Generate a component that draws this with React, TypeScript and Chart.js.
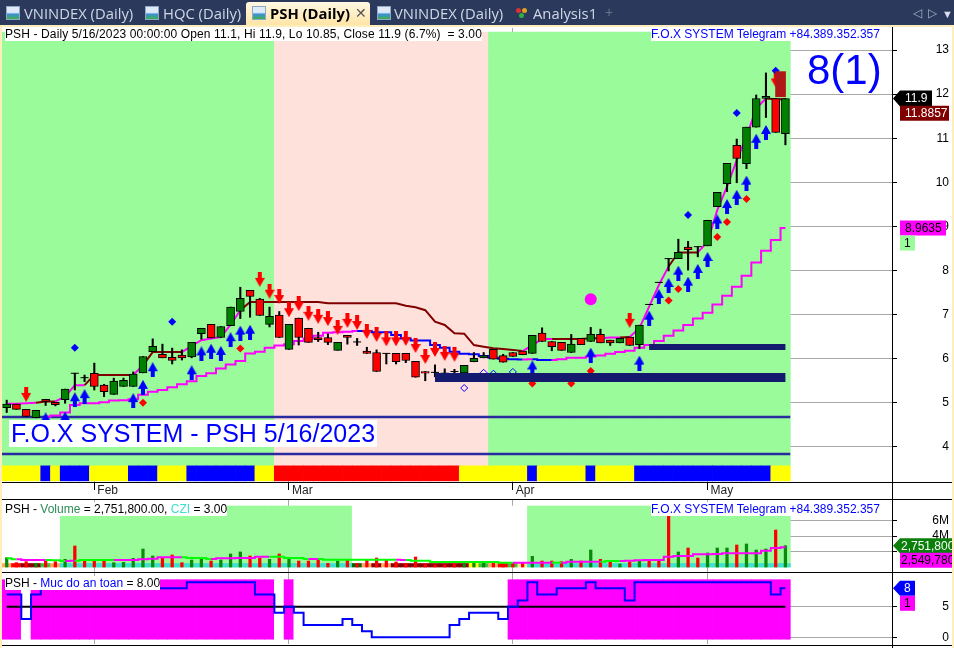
import React, { useEffect, useRef } from "react";
import { Chart, registerables } from "chart.js";

Chart.register(...registerables);

const opens = [4.89,4.97,4.85,4.66,5.08,5.01,5.07,5.67,5.57,5.67,5.40,5.19,5.37,5.37,5.68,6.16,6.10,6.03,6.08,6.04,6.57,6.78,6.48,6.75,7.07,7.55,7.35,6.78,6.99,6.21,6.92,6.69,6.48,6.48,6.19,6.53,6.38,6.17,6.14,6.12,6.12,6.12,5.94,5.71,5.69,5.68,5.71,5.68,5.93,6.02,6.21,6.07,6.14,6.17,6.12,6.58,6.39,6.37,6.14,6.46,6.39,6.55,6.42,6.36,6.49,6.32,7.23,7.73,8.27,8.27,8.53,8.54,8.56,9.45,9.97,10.84,10.42,11.25,11.90,11.90,11.10];
const highs = [5.06,4.97,4.85,4.83,5.08,5.01,5.31,5.67,5.63,5.90,5.42,5.56,5.56,5.70,6.05,6.45,6.33,6.24,6.20,6.37,6.69,6.78,6.73,7.17,7.62,7.55,7.37,7.17,7.07,6.78,6.92,6.69,6.60,6.56,6.37,6.53,6.46,6.26,6.20,6.12,6.12,6.12,5.94,5.71,5.86,5.77,5.76,5.85,6.14,6.14,6.21,6.10,6.14,6.17,6.53,6.70,6.39,6.37,6.55,6.46,6.71,6.67,6.42,6.46,6.49,6.76,7.23,7.73,8.27,8.71,8.66,8.54,9.14,9.77,10.43,10.98,11.25,11.98,12.48,11.90,11.90];
const lows = [4.78,4.85,4.69,4.66,4.94,4.93,4.99,5.29,5.48,5.29,5.14,5.19,5.37,5.37,5.68,6.16,6.02,5.88,5.97,6.02,6.44,6.47,6.48,6.75,6.91,6.94,6.98,6.72,6.48,6.21,6.31,6.37,6.39,6.32,6.19,6.33,6.30,6.12,5.71,5.88,5.88,5.91,5.58,5.50,5.59,5.59,5.65,5.68,5.93,6.02,5.99,5.92,6.05,6.09,6.12,6.39,6.18,6.19,6.14,6.32,6.39,6.36,6.30,6.36,6.30,6.23,7.23,7.73,7.99,8.27,8.01,8.31,8.56,9.45,9.79,9.99,10.31,11.25,11.47,11.13,10.85];
const closes = [4.97,4.85,4.69,4.83,5.03,4.96,5.31,5.67,5.57,5.37,5.25,5.49,5.51,5.65,6.05,6.28,6.02,5.96,6.02,6.37,6.69,6.47,6.73,7.17,7.37,7.41,6.98,6.96,6.48,6.78,6.48,6.37,6.43,6.37,6.37,6.48,6.38,6.12,5.71,6.12,5.93,5.96,5.58,5.67,5.69,5.64,5.71,5.85,6.01,6.07,5.99,5.92,6.05,6.09,6.53,6.39,6.27,6.19,6.33,6.32,6.55,6.36,6.36,6.46,6.30,6.76,7.23,7.73,8.27,8.41,8.47,8.54,9.14,9.77,10.43,10.54,11.25,11.90,11.95,11.13,11.90];

const upperLine = [4.98,4.98,4.99,5.0,5.03,5.03,5.14,5.40,5.40,5.63,5.63,5.63,5.63,5.63,5.85,6.15,6.15,6.15,6.15,6.29,6.42,6.46,6.49,6.77,7.1,7.285,7.285,7.285,7.285,7.285,7.285,7.285,7.285,7.255,7.255,7.255,7.255,7.255,7.255,7.255,7.255,7.2,7.165,7.10,6.84,6.764,6.575,6.567,6.31,6.272,6.235,6.22,6.2,6.174,6.31,6.446,6.446,6.446,6.446,6.446,6.462,6.462,6.478,6.478,6.49,6.69,7.18,7.67,8.09,8.41,8.41,8.41,8.65,9.37,9.9,10.5,11.03,11.68,11.9,11.8857,11.8857];
const upperIsSupport = [1,1,1,1,0,0,1,1,1,0,0,0,0,0,1,0,0,0,0,1,1,1,1,1,1,0,0,0,0,0,0,0,0,0,0,0,0,0,0,0,0,0,0,0,0,0,0,0,0,0,0,0,0,0,1,1,1,0,0,0,0,0,1,1,0,1,1,1,1,0,0,0,1,1,1,1,1,1,1,0,0];
const lowerLine = [null,null,null,null,4.686,4.71,4.78,4.95,4.99,4.99,5.01,5.05,5.06,5.08,5.18,5.25,5.29,5.35,5.42,5.49,5.61,5.67,5.78,5.87,5.95,6.12,6.16,6.25,6.30,6.33,6.40,6.46,6.52,6.59,6.60,6.61,6.63,6.63,6.60,6.60,6.54,6.46,6.41,6.41,6.31,6.25,6.16,6.11,6.10,6.06,6.02,6.0,5.985,5.98,5.985,5.97,5.97,5.985,6.02,6.02,6.05,6.07,6.115,6.15,6.18,6.25,6.31,6.40,6.52,6.64,6.765,6.91,7.04,7.23,7.43,7.63,7.88,8.18,8.45,8.69,8.9635];
const lowerIsSupport = [1,1,1,1,1,1,1,1,1,1,1,1,1,1,1,1,1,1,1,1,1,1,1,1,1,1,1,1,1,1,1,1,1,1,1,1,1,0,0,0,0,0,0,0,0,0,0,0,0,0,0,0,0,0,1,0,0,1,1,1,1,1,1,1,1,1,1,1,1,1,1,1,1,1,1,1,1,1,1,1,1];

const blueArrowIdx = [4,6,7,8,13,14,15,19,20,21,22,23,24,25,54,60,65,66,67,68,69,70,71,72,73,74,75,76,77,78];
const blueArrowVal = [4.61,4.63,5.07,5.14,5.05,5.35,5.75,5.68,6.11,6.17,6.12,6.43,6.58,6.60,5.79,6.08,5.90,6.92,7.41,7.66,7.94,7.69,7.98,8.25,9.10,9.45,9.66,9.98,10.93,11.13];
const redArrowIdx = [2,26,27,28,29,30,31,32,33,34,35,36,37,38,39,40,41,42,43,44,45,46,64,79];
const redArrowVal = [5.19,7.80,7.53,7.41,7.11,7.25,7.03,6.96,6.91,6.71,6.87,6.82,6.62,6.55,6.45,6.45,6.46,6.30,6.05,6.21,6.12,6.10,6.87,12.32];
const blueDotIdx = [7,17,70,75,79];
const blueDotVal = [6.25,6.84,9.26,11.57,12.53];
const redDotIdx = [14,24,54,58,60,68,69,73,74,76];
const redDotVal = [5.0,6.23,5.44,5.44,5.72,7.32,7.58,8.76,9.10,9.62];
const hollowIdx = [47,49,50,52];
const hollowVal = [5.335,5.68,5.66,5.70];
const bigDotIdx = [60];
const bigDotVal = [7.35];

const zoneStates = Array.from("GGGGGGGGGGGGGGGGGGGGGGGGGGGGPPPPPPPPPPPPPPPPPPPPPPGGGGGGGGGGGGGGGGGGGGGGGGGGGGGGG");
const stripStates = Array.from("YYYYBYBBBYYYYBBBYYYBBBBBBBYYRRRRRRRRRRRRRRRRRRRYYYYYYYBYYYYYBYYYYBBBBBBBBBBBBBBYY");
const bandLowStart = [44, 80];
const bandLowValue = 5.574;
const bandHighStart = [66, 80];
const bandHighValue = 6.265;
const frameLines = [4.678, 3.839];
const dropBox = [12.51, 11.94];

const monthIdx = [9, 29, 52, 72];
const monthLabels = ["Feb", "Mar", "Apr", "May"];
const priceTicks = [4,5,6,7,8,9,10,11,12,13];

const volumes = [1.20,.56,.69,.47,.77,.69,.99,2.71,.99,.99,.90,.56,.60,1.12,2.32,1.42,1.16,1.55,.56,.90,1.25,.77,.90,1.68,1.94,1.42,1.16,.99,1.68,1.25,.77,.77,.90,.47,.77,.90,.47,.90,1.16,.90,.65,.47,1.29,.43,.26,.30,.43,.39,.47,.52,.47,.43,.47,.47,1.38,.77,.77,.69,.99,.77,2.19,.99,.77,.39,.65,.85,.90,.90,6.58,1.94,2.45,1.16,1.81,2.45,2.45,2.84,2.97,2.19,2.32,4.77,2.75];
const volumeAvg = [1.12,.99,.90,.90,.90,.86,.77,.82,.90,.90,.90,.90,.90,.90,.99,1.08,1.25,1.25,1.25,1.16,1.16,1.03,1.12,1.12,1.16,1.16,1.33,1.33,1.33,1.16,1.16,1.03,1.03,.95,.95,.95,.95,.95,.95,.95,.95,.90,.82,.82,.65,.65,.65,.65,.65,.65,.65,.56,.56,.56,.56,.56,.56,.56,.69,.69,.69,.69,.77,.77,.82,.86,.90,.90,1.33,1.42,1.42,1.63,1.63,1.68,1.76,1.76,1.76,1.76,2.11,2.45,2.55];
const volumeAvgIsLime = [1,1,0,0,0,1,1,0,1,1,1,1,0,0,0,0,0,0,0,1,1,1,0,0,0,0,0,0,1,1,1,1,0,1,1,1,1,1,1,1,1,0,1,1,1,1,1,1,1,1,1,1,1,0,0,0,0,1,0,0,0,0,1,1,0,0,0,0,0,0,0,0,0,0,0,0,0,0,0,0,0];
const volumeZoneOn = [0,0,0,0,0,0,1,1,1,1,1,1,1,1,1,1,1,1,1,1,1,1,1,1,1,1,1,1,1,1,1,1,1,1,1,1,0,0,0,0,0,0,0,0,0,0,0,0,0,0,0,0,0,0,1,1,1,1,1,1,1,1,1,1,1,1,1,1,1,1,1,1,1,1,1,1,1,1,1,1,1];
const cziStates = Array.from("ORMMLOCCCCCCCCCCCCCCCCCCCCCCCCCCCCCCDOMOMMMMMMMMYLORLPCCCCCCCCCCCCCCCCCCCCCCCCCCC");
const volumeTicks = [2, 4, 6];

const safetyLevel = [7,7,3,7,8,8,8,8,8,8,8,8,8,8,8,8,8,8,8,9,9,9,9,9,9,9,7,7,4,5,4,2,2,2,2,3,2,1,0,0,0,0,0,0,0,0,2,3,4,4,4,3,5,6,9,7,7,8,8,8,9,8,8,8,6,9,9,9,9,9,9,9,9,9,9,9,9,9,9,7,8];
const safetyMid = 5;
const safetyTicks = [0, 5];

const indexes = opens.map((_, i) => i);
const X_MIN = -0.483;
const X_MAX = 90.95;
const GREEN = "#008000";
const RED = "#ff0000";
const ZONE_G = "#99fb99";
const ZONE_P = "#ffe1dc";
const MAG = "#ff00ff";
const MAROON = "#800000";
const pts = (xs: number[], ys: any[]) => xs.map((x, k) => ({ x, y: ys[k] }));

function arrowCanvas(color: string, up: boolean) {
  const c = document.createElement("canvas");
  c.width = 10;
  c.height = 15;
  const g = c.getContext("2d")!;
  g.fillStyle = color;
  g.beginPath();
  const p: number[][] = [[5,0],[10,9],[7,9],[7,15],[3,15],[3,9],[0,9]];
  p.forEach(([x, y], k) => {
    const yy = up ? y : 15 - y;
    if (k === 0) g.moveTo(x, yy); else g.lineTo(x, yy);
  });
  g.closePath();
  g.fill();
  return c;
}

function tagsPlugin(tags: any[]) {
  return {
    id: "tags",
    afterDraw(chart: any) {
      const g = chart.ctx;
      const sc = chart.scales.y;
      g.save();
      g.font = "12px 'Liberation Sans'";
      g.textBaseline = "middle";
      tags.forEach((t) => {
        const y = sc.getPixelForValue(t.value) + (t.dy || 0);
        const h = t.h || 15;
        g.fillStyle = t.bg;
        g.beginPath();
        if (t.arrow) {
          g.moveTo(893, y);
          g.lineTo(900, y - h / 2);
          g.lineTo(t.x2, y - h / 2);
          g.lineTo(t.x2, y + h / 2);
          g.lineTo(900, y + h / 2);
        } else {
          g.rect(t.x1, y - h / 2, t.x2 - t.x1, h);
        }
        g.closePath();
        g.fill();
        g.fillStyle = t.fg;
        g.textAlign = "left";
        g.fillText(t.text, t.tx, y + 0.5);
      });
      g.restore();
    },
  };
}

const noPadding = (s: any) => {
  s.paddingTop = 0;
  s.paddingBottom = 0;
  s.paddingLeft = 0;
  s.paddingRight = 0;
};

function xAxis(main: boolean) {
  return {
    type: "linear",
    min: X_MIN,
    max: X_MAX,
    offset: false,
    border: { display: false },
    afterBuildTicks: (s: any) => {
      s.ticks = monthIdx.map((value) => ({ value }));
    },
    afterFit: (s: any) => {
      s.height = main ? 17 : 1;
      noPadding(s);
    },
    grid: {
      offset: false,
      color: "#a8a8a8",
      lineWidth: 1,
      borderDash: [1, 2],
      drawTicks: main,
      tickLength: 8,
      tickColor: "#000",
      tickBorderDash: [],
    },
    ticks: {
      display: main,
      autoSkip: false,
      maxRotation: 0,
      align: "start",
      labelOffset: 3,
      padding: -7,
      color: "#222",
      font: { family: "'Liberation Sans'", size: 12 },
      callback: (v: number) => monthLabels[monthIdx.indexOf(v)] || "",
    },
  };
}

function yAxis(min: number, max: number, tickValues: number[], fmt: (v: number) => string) {
  return {
    position: "right",
    min,
    max,
    border: { display: false },
    afterBuildTicks: (s: any) => {
      s.ticks = tickValues.map((value) => ({ value }));
    },
    afterFit: (s: any) => {
      s.width = 57;
      noPadding(s);
    },
    grid: {
      color: "#a8a8a8",
      lineWidth: 1,
      borderDash: [1, 2],
      tickColor: "#000",
      tickLength: 5,
      tickBorderDash: [],
    },
    ticks: {
      autoSkip: false,
      crossAlign: "far",
      color: "#000",
      font: { family: "'Liberation Sans'", size: 12 },
      callback: (v: number) => fmt(v),
    },
  };
}

const baseOptions = (scales: any, padTop: number) => ({
  animation: false,
  responsive: false,
  devicePixelRatio: 1,
  events: [],
  layout: { autoPadding: false, padding: { left: 2, right: 5, top: padTop, bottom: 0 } },
  plugins: { legend: { display: false }, tooltip: { enabled: false }, title: { display: false } },
  scales,
});

const bar = (data: any[], color: any, thick: number, order: number, extra: any = {}) => ({
  type: "bar",
  data,
  backgroundColor: color,
  barThickness: thick,
  grouped: false,
  order,
  borderWidth: 0,
  ...extra,
});

const scatter = (data: any[], order: number, extra: any) => ({
  type: "line",
  data,
  showLine: false,
  order,
  ...extra,
});

function hLine(xs: number[], y: number, color: string, width: number, order: number) {
  return {
    type: "line",
    data: xs.map((x) => ({ x, y })),
    borderColor: color,
    borderWidth: width,
    pointRadius: 0,
    order,
    borderCapStyle: "butt",
  };
}

function buildMain(canvas: HTMLCanvasElement) {
  const upArrow = arrowCanvas("#0000ff", true);
  const downArrow = arrowCanvas("#ff0000", false);
  const dojis = indexes.filter((i) => opens[i] === closes[i]);
  const bodies = indexes.filter((i) => opens[i] !== closes[i]);
  return new Chart(canvas, {
    type: "bar",
    data: {
      datasets: [
        bar(indexes.map((i) => ({ x: i, y: [3.57, 13.408] })), zoneStates.map((s) => (s === "G" ? ZONE_G : ZONE_P)), 9.8, 100),
        bar(indexes.map((i) => ({ x: i, y: [3.23, 3.57] })), stripStates.map((s) => (s === "Y" ? "#ffff00" : s === "B" ? "#0000ff" : "#ff0000")), 9.8, 99),
        hLine([-0.5, 80.5], frameLines[0], "#2a2aa0", 2.5, 90),
        hLine([-0.5, 80.5], frameLines[1], "#2a2aa0", 2.5, 90),
        {
          type: "line",
          data: pts(indexes, lowerLine),
          stepped: "middle",
          borderWidth: 2,
          borderColor: MAG,
          pointRadius: 0,
          order: 60,
          segment: { borderColor: (c: any) => (lowerIsSupport[c.p1DataIndex] ? MAG : "#0000ff") },
        },
        {
          type: "line",
          data: pts(indexes, upperLine),
          borderWidth: 2,
          borderColor: MAG,
          pointRadius: 0,
          order: 59,
          segment: { borderColor: (c: any) => (upperIsSupport[c.p1DataIndex] ? MAG : MAROON) },
        },
        bar(indexes.map((i) => ({ x: i, y: [lows[i], highs[i]] })), "#000", 1.4, 50),
        bar(
          bodies.map((i) => ({ x: i, y: [opens[i], closes[i]] })),
          bodies.map((i) => (closes[i] > opens[i] ? GREEN : RED)),
          8,
          49,
          { borderColor: "#000", borderWidth: 1, borderSkipped: false }
        ),
        scatter(dojis.map((i) => ({ x: i, y: closes[i] })), 48, { pointStyle: "line", pointRadius: 4, pointBorderColor: "#000", pointBorderWidth: 1, pointRotation: 0 }),
        scatter(pts(blueArrowIdx, blueArrowVal), 40, { pointStyle: upArrow, pointRadius: 6 }),
        scatter(pts(redArrowIdx, redArrowVal), 40, { pointStyle: downArrow, pointRadius: 6 }),
        scatter(pts(blueDotIdx, blueDotVal), 39, { pointStyle: "rectRot", pointRadius: 4, pointBackgroundColor: "#0000ff", pointBorderColor: "#0000ff", pointBorderWidth: 0 }),
        scatter(pts(redDotIdx, redDotVal), 39, { pointStyle: "rectRot", pointRadius: 4, pointBackgroundColor: "#ff0000", pointBorderColor: "#ff0000", pointBorderWidth: 0 }),
        scatter(pts(hollowIdx, hollowVal), 39, { pointStyle: "rectRot", pointRadius: 3.5, pointBackgroundColor: "rgba(0,0,0,0)", pointBorderColor: "#0000ff", pointBorderWidth: 1 }),
        scatter(pts(bigDotIdx, bigDotVal), 39, { pointStyle: "circle", pointRadius: 6, pointBackgroundColor: MAG, pointBorderColor: MAG, pointBorderWidth: 0 }),
        hLine(bandLowStart, bandLowValue, "#141a6e", 9, 30),
        hLine(bandHighStart, bandHighValue, "#141a6e", 6, 30),
        bar([{ x: 79.5, y: dropBox }], "#b01818", 10, 20),
      ] as any,
    },
    plugins: [
      tagsPlugin([
        { value: closes[80], text: "11.9", bg: "#000", fg: "#fff", arrow: true, x2: 932, tx: 905, h: 16 },
        { value: upperLine[80], dy: 14, text: "11.8857", bg: MAROON, fg: "#fff", x1: 900, x2: 949, tx: 905 },
        { value: lowerLine[80] as number, text: "8.9635", bg: MAG, fg: "#000", x1: 900, x2: 946, tx: 905 },
        { value: lowerLine[80] as number, dy: 15, text: "1", bg: ZONE_G, fg: "#000", x1: 900, x2: 915, tx: 904 },
      ]),
    ],
    options: baseOptions(
      { x: xAxis(true), y: yAxis(3.204, 13.499, priceTicks, (v) => String(v)) },
      2
    ) as any,
  } as any);
}

function buildVolume(canvas: HTMLCanvasElement) {
  const cziColor: any = { O: "#ffa860", R: "#ff0000", M: "#8b0000", L: "#40c040", C: "#40e0d0", D: "#006400", Y: "#ffff00", P: "#e8f090" };
  return new Chart(canvas, {
    type: "bar",
    data: {
      datasets: [
        bar(indexes.map((i) => ({ x: i, y: [0, 7.87] })), volumeZoneOn.map((s) => (s ? ZONE_G : "#fff")), 9.8, 100),
        bar(indexes.map((i) => ({ x: i, y: [0, 0.45] })), cziStates.map((s) => cziColor[s]), 9.8, 99),
        bar(pts(indexes, volumes), indexes.map((i) => (closes[i] > opens[i] ? "#0a8a0a" : RED)), 2.6, 60),
        {
          type: "line",
          data: pts(indexes, volumeAvg),
          stepped: "middle",
          borderWidth: 2,
          borderColor: MAG,
          pointRadius: 0,
          order: 50,
          segment: { borderColor: (c: any) => (volumeAvgIsLime[c.p1DataIndex] ? "#00ff00" : MAG) },
        },
      ] as any,
    },
    plugins: [
      tagsPlugin([
        { value: volumes[80], text: "2,751,800", bg: "#0a7f0a", fg: "#fff", arrow: true, x2: 954, tx: 901 },
        { value: volumeAvg[80], dy: 13, text: "2,549,780", bg: MAG, fg: "#000", x1: 900, x2: 954, tx: 901 },
      ]),
    ],
    options: baseOptions(
      { x: xAxis(false), y: yAxis(-0.645, 8.645, volumeTicks, (v) => v + "M") },
      1
    ) as any,
  } as any);
}

function buildSafety(canvas: HTMLCanvasElement) {
  return new Chart(canvas, {
    type: "bar",
    data: {
      datasets: [
        bar(indexes.map((i) => ({ x: i, y: [-0.32, 9.41] })), safetyLevel.map((v) => (v >= safetyMid ? MAG : "#fff")), 9.8, 100),
        hLine([0, 80], safetyMid, "#000", 2, 60),
        {
          type: "line",
          data: pts(indexes, safetyLevel),
          stepped: "middle",
          borderWidth: 2,
          borderColor: "#0000ff",
          pointRadius: 0,
          order: 50,
        },
      ] as any,
    },
    plugins: [
      tagsPlugin([
        { value: safetyLevel[80], text: "8", bg: "#0000ff", fg: "#fff", arrow: true, x2: 915, tx: 904 },
        { value: safetyLevel[80], dy: 15, text: "1", bg: MAG, fg: "#000", x1: 900, x2: 915, tx: 904 },
      ]),
    ],
    options: baseOptions(
      { x: xAxis(false), y: yAxis(-1.1, 10.5, safetyTicks, (v) => String(v)) },
      1
    ) as any,
  } as any);
}

const abs = (left: number, top: number, extra: any = {}): any => ({ position: "absolute", left, top, whiteSpace: "nowrap", ...extra });
const ARIAL = "'Liberation Sans', Arial, sans-serif";

function Icon({ x }: { x: number }) {
  return (
    <span
      style={abs(x, 6, {
        width: 14,
        height: 14,
        border: "1px solid #8fa8c8",
        boxSizing: "border-box",
        background: "linear-gradient(#dfeaf8 45%, #3f8fd8 60%, #3cb04a 100%)",
      })}
    />
  );
}

function TabText({ x, text, active }: { x: number; text: string; active?: boolean }) {
  return (
    <span
      style={abs(x, 4, {
        fontFamily: "'Open Sans', sans-serif",
        fontSize: 14.8,
        lineHeight: "19px",
        color: active ? "#000" : "#d0d8e6",
        fontWeight: active ? 700 : 400,
      })}
    >
      {text}
    </span>
  );
}

function Rule({ left, top, width, height }: any) {
  return <div style={abs(left, top, { width, height, background: "#000" })} />;
}

const titleStyle = (x: number, y: number, extra: any = {}) =>
  abs(x, y, { fontFamily: ARIAL, fontSize: 12, lineHeight: "14px", background: "#fff", color: "#000", ...extra });

export default function App() {
  const mainRef = useRef<HTMLCanvasElement>(null);
  const volRef = useRef<HTMLCanvasElement>(null);
  const safeRef = useRef<HTMLCanvasElement>(null);

  useEffect(() => {
    const charts = [buildMain(mainRef.current!), buildVolume(volRef.current!), buildSafety(safeRef.current!)];
    return () => charts.forEach((c) => c.destroy());
  }, []);

  return (
    <div style={abs(0, 0, { width: 954, height: 648, overflow: "hidden", background: "#fff" })}>
      <canvas ref={mainRef} width={954} height={473} style={abs(0, 26, { display: "block" })} />
      <canvas ref={volRef} width={954} height={74} style={abs(0, 499, { display: "block" })} />
      <canvas ref={safeRef} width={954} height={73} style={abs(0, 572, { display: "block" })} />

      <div style={abs(0, 0, { width: 954, height: 26, background: "#2b3a5c" })} />
      <div style={abs(246, 2, { width: 124, height: 24, borderRadius: "3px 3px 0 0", background: "linear-gradient(#fff8e4, #ffe3a4)" })} />
      <div style={abs(0, 25, { width: 954, height: 2, background: "#ffedbc" })} />
      <div style={abs(0, 26, { width: 2, height: 622, background: "#ffedbc" })} />
      <div style={abs(952, 26, { width: 2, height: 622, background: "#ffedbc" })} />
      <Icon x={6} />
      <TabText x={24} text="VNINDEX (Daily)" />
      <Icon x={145} />
      <TabText x={163} text="HQC (Daily)" />
      <Icon x={252} />
      <TabText x={270} text="PSH (Daily)" active />
      <span style={abs(355, 4, { fontFamily: ARIAL, fontSize: 14, lineHeight: "19px", color: "#555" })}>✕</span>
      <Icon x={377} />
      <TabText x={394} text="VNINDEX (Daily)" />
      <span style={abs(516, 8, { width: 5, height: 5, borderRadius: 3, background: "#e03030" })} />
      <span style={abs(522, 8, { width: 5, height: 5, borderRadius: 3, background: "#e0a020" })} />
      <span style={abs(519, 13, { width: 5, height: 5, borderRadius: 3, background: "#30b040" })} />
      <TabText x={533} text="Analysis1" />
      <span style={abs(605, 3, { fontFamily: ARIAL, fontSize: 14, lineHeight: "19px", color: "#66728c" })}>+</span>
      <span style={abs(913, 4, { fontFamily: ARIAL, fontSize: 12, lineHeight: "19px", color: "#a8b2c6" })}>◁</span>
      <span style={abs(928, 4, { fontFamily: ARIAL, fontSize: 12, lineHeight: "19px", color: "#a8b2c6" })}>▷</span>
      <span style={abs(942, 5, { fontFamily: ARIAL, fontSize: 11, lineHeight: "19px", color: "#d8deea" })}>▼</span>

      <Rule left={2} top={482} width={950} height={1} />
      <Rule left={2} top={499} width={950} height={1} />
      <Rule left={2} top={572} width={950} height={1} />
      <Rule left={2} top={645} width={950} height={1} />
      <Rule left={892} top={27} width={1} height={621} />

      <div style={titleStyle(5, 27, { letterSpacing: "0.12px" })}>PSH - Daily 5/16/2023 00:00:00 Open 11.1, Hi 11.9, Lo 10.85, Close 11.9 (6.7%) &nbsp;= 3.00</div>
      <div style={titleStyle(651, 27, { color: "#0000ff" })}>F.O.X SYSTEM Telegram +84.389.352.357</div>
      <div style={abs(807, 45, { fontFamily: ARIAL, fontSize: 42, lineHeight: "50px", color: "#0000ff" })}>8(1)</div>
      <div style={abs(9, 420, { fontFamily: ARIAL, fontSize: 25, lineHeight: "27px", color: "#0000ff", background: "#fff", padding: "0 2px" })}>F.O.X SYSTEM - PSH 5/16/2023</div>

      <div style={titleStyle(5, 502)}>
        PSH - <span style={{ color: "#2e8b57" }}>Volume</span> = 2,751,800.00, <span style={{ color: "#40e0d0" }}>CZI</span> = 3.00
      </div>
      <div style={titleStyle(651, 502, { color: "#0000ff" })}>F.O.X SYSTEM Telegram +84.389.352.357</div>
      <div style={titleStyle(5, 576)}>
        PSH - <span style={{ color: "#0000ff" }}>Muc do an toan</span> = 8.00
      </div>
    </div>
  );
}
